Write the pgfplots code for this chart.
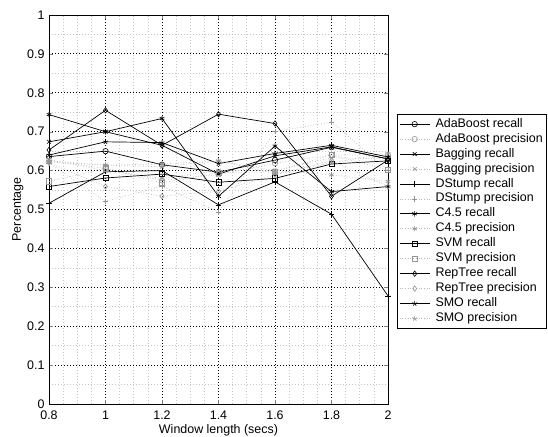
\documentclass[border=0pt]{standalone}
\usepackage{pgfplots}
\pgfplotsset{compat=1.18}
\usepackage{pgfplotstable}
\usepackage{fontspec}
\setmainfont{Liberation Sans}

% recall per classifier and window length
\pgfplotstableread{
x   ada   bag   dst   c45   svm   rep   smo
0.8 0.636 0.674 0.516 0.744 0.559 0.653 0.640
1.0 0.650 0.700 0.597 0.700 0.581 0.755 0.674
1.2 0.615 0.665 0.600 0.734 0.591 0.665 0.672
1.4 0.596 0.591 0.512 0.534 0.570 0.745 0.618
1.6 0.627 0.638 0.571 0.663 0.580 0.721 0.644
1.8 0.660 0.661 0.488 0.546 0.617 0.534 0.665
2.0 0.630 0.630 0.278 0.559 0.625 0.627 0.635
}\recall

% precision per classifier and window length
\pgfplotstableread{
x   ada   bag   dst   c45   svm   rep   smo
0.8 0.625 0.628 0.620 0.622 0.572 0.620 0.625
1.0 0.606 0.600 0.521 0.614 0.606 0.559 0.614
1.2 0.575 0.580 0.560 0.617 0.568 0.534 0.610
1.4 0.590 0.600 0.494 0.625 0.595 0.547 0.625
1.6 0.619 0.600 0.700 0.600 0.597 0.589 0.592
1.8 0.640 0.633 0.725 0.589 0.640 0.625 0.620
2.0 0.640 0.630 0.600 0.572 0.602 0.559 0.644
}\precision

\pgfplotsset{
  rec/.style={black, line width=0.7bp, mark size=2.7bp, mark options={solid, line width=0.6bp}},
  pre/.style={gray!55, dotted, line width=0.7bp, mark size=2.7bp, mark options={solid, gray!85, line width=0.6bp}},
}

\begin{document}
\begin{tikzpicture}[font=\fontsize{12.5}{15}\selectfont]
\useasboundingbox (-49bp,-33bp) rectangle (499bp,404bp);
\begin{axis}[
  at={(0,0)}, anchor=south west,
  scale only axis,
  width=339bp, height=389bp,
  xmin=0.8, xmax=2, ymin=0, ymax=1,
  xtick={0.8,1,1.2,1.4,1.6,1.8,2},
  xticklabels={0.8,1,1.2,1.4,1.6,1.8,2},
  ytick={0,0.1,0.2,0.3,0.4,0.5,0.6,0.7,0.8,0.9,1},
  yticklabels={0,0.1,0.2,0.3,0.4,0.5,0.6,0.7,0.8,0.9,1},
  minor x tick num=3, minor y tick num=1,
  grid=both,
  major grid style={black, line width=0.8bp, dash pattern=on 0.9bp off 2.1bp},
  minor grid style={gray!45, line width=0.6bp, dash pattern=on 1bp off 2bp},
  tick align=inside, xtick pos=both, ytick pos=both,
  major tick length=4bp, minor tick length=0bp,
  axis line style={black, line width=0.9bp},
  xlabel={Window length (secs)}, ylabel={Percentage},
  xlabel style={at={(axis description cs:0.5,0)}, anchor=center, yshift=-26bp},
  ylabel style={at={(axis description cs:0,0.5)}, anchor=center, yshift=31bp},
  xticklabel style={yshift=-3bp},
  yticklabel style={xshift=-1bp},
  legend style={at={(1.0265,0.745)}, anchor=north west, draw=black, line width=0.7bp,
    fill=white, inner xsep=2bp, inner ysep=2.5bp, row sep=0.75bp,
    nodes={inner sep=1.5bp, text height=8.7bp, text depth=2.5bp},
    /tikz/every odd column/.append style={column sep=4bp}},
  legend cell align=left,
  legend image code/.code={\draw[mark repeat=2,mark phase=2] plot coordinates {(0bp,0bp)(15bp,0bp)(30bp,0bp)};},
]
\addplot[rec, mark=o] table[x=x,y=ada] {\recall};
\addlegendentry{AdaBoost recall}
\addplot[pre, mark=o] table[x=x,y=ada] {\precision};
\addlegendentry{AdaBoost precision}
\addplot[rec, mark=x] table[x=x,y=bag] {\recall};
\addlegendentry{Bagging recall}
\addplot[pre, mark=x] table[x=x,y=bag] {\precision};
\addlegendentry{Bagging precision}
\addplot[rec, mark=+] table[x=x,y=dst] {\recall};
\addlegendentry{DStump recall}
\addplot[pre, mark=+] table[x=x,y=dst] {\precision};
\addlegendentry{DStump precision}
\addplot[rec, mark=asterisk] table[x=x,y=c45] {\recall};
\addlegendentry{C4.5 recall}
\addplot[pre, mark=asterisk] table[x=x,y=c45] {\precision};
\addlegendentry{C4.5 precision}
\addplot[rec, mark=square] table[x=x,y=svm] {\recall};
\addlegendentry{SVM recall}
\addplot[pre, mark=square] table[x=x,y=svm] {\precision};
\addlegendentry{SVM precision}
\addplot[rec, mark=diamond] table[x=x,y=rep] {\recall};
\addlegendentry{RepTree recall}
\addplot[pre, mark=diamond] table[x=x,y=rep] {\precision};
\addlegendentry{RepTree precision}
\addplot[rec, mark=star] table[x=x,y=smo] {\recall};
\addlegendentry{SMO recall}
\addplot[pre, mark=star] table[x=x,y=smo] {\precision};
\addlegendentry{SMO precision}
\end{axis}
\end{tikzpicture}
\end{document}
